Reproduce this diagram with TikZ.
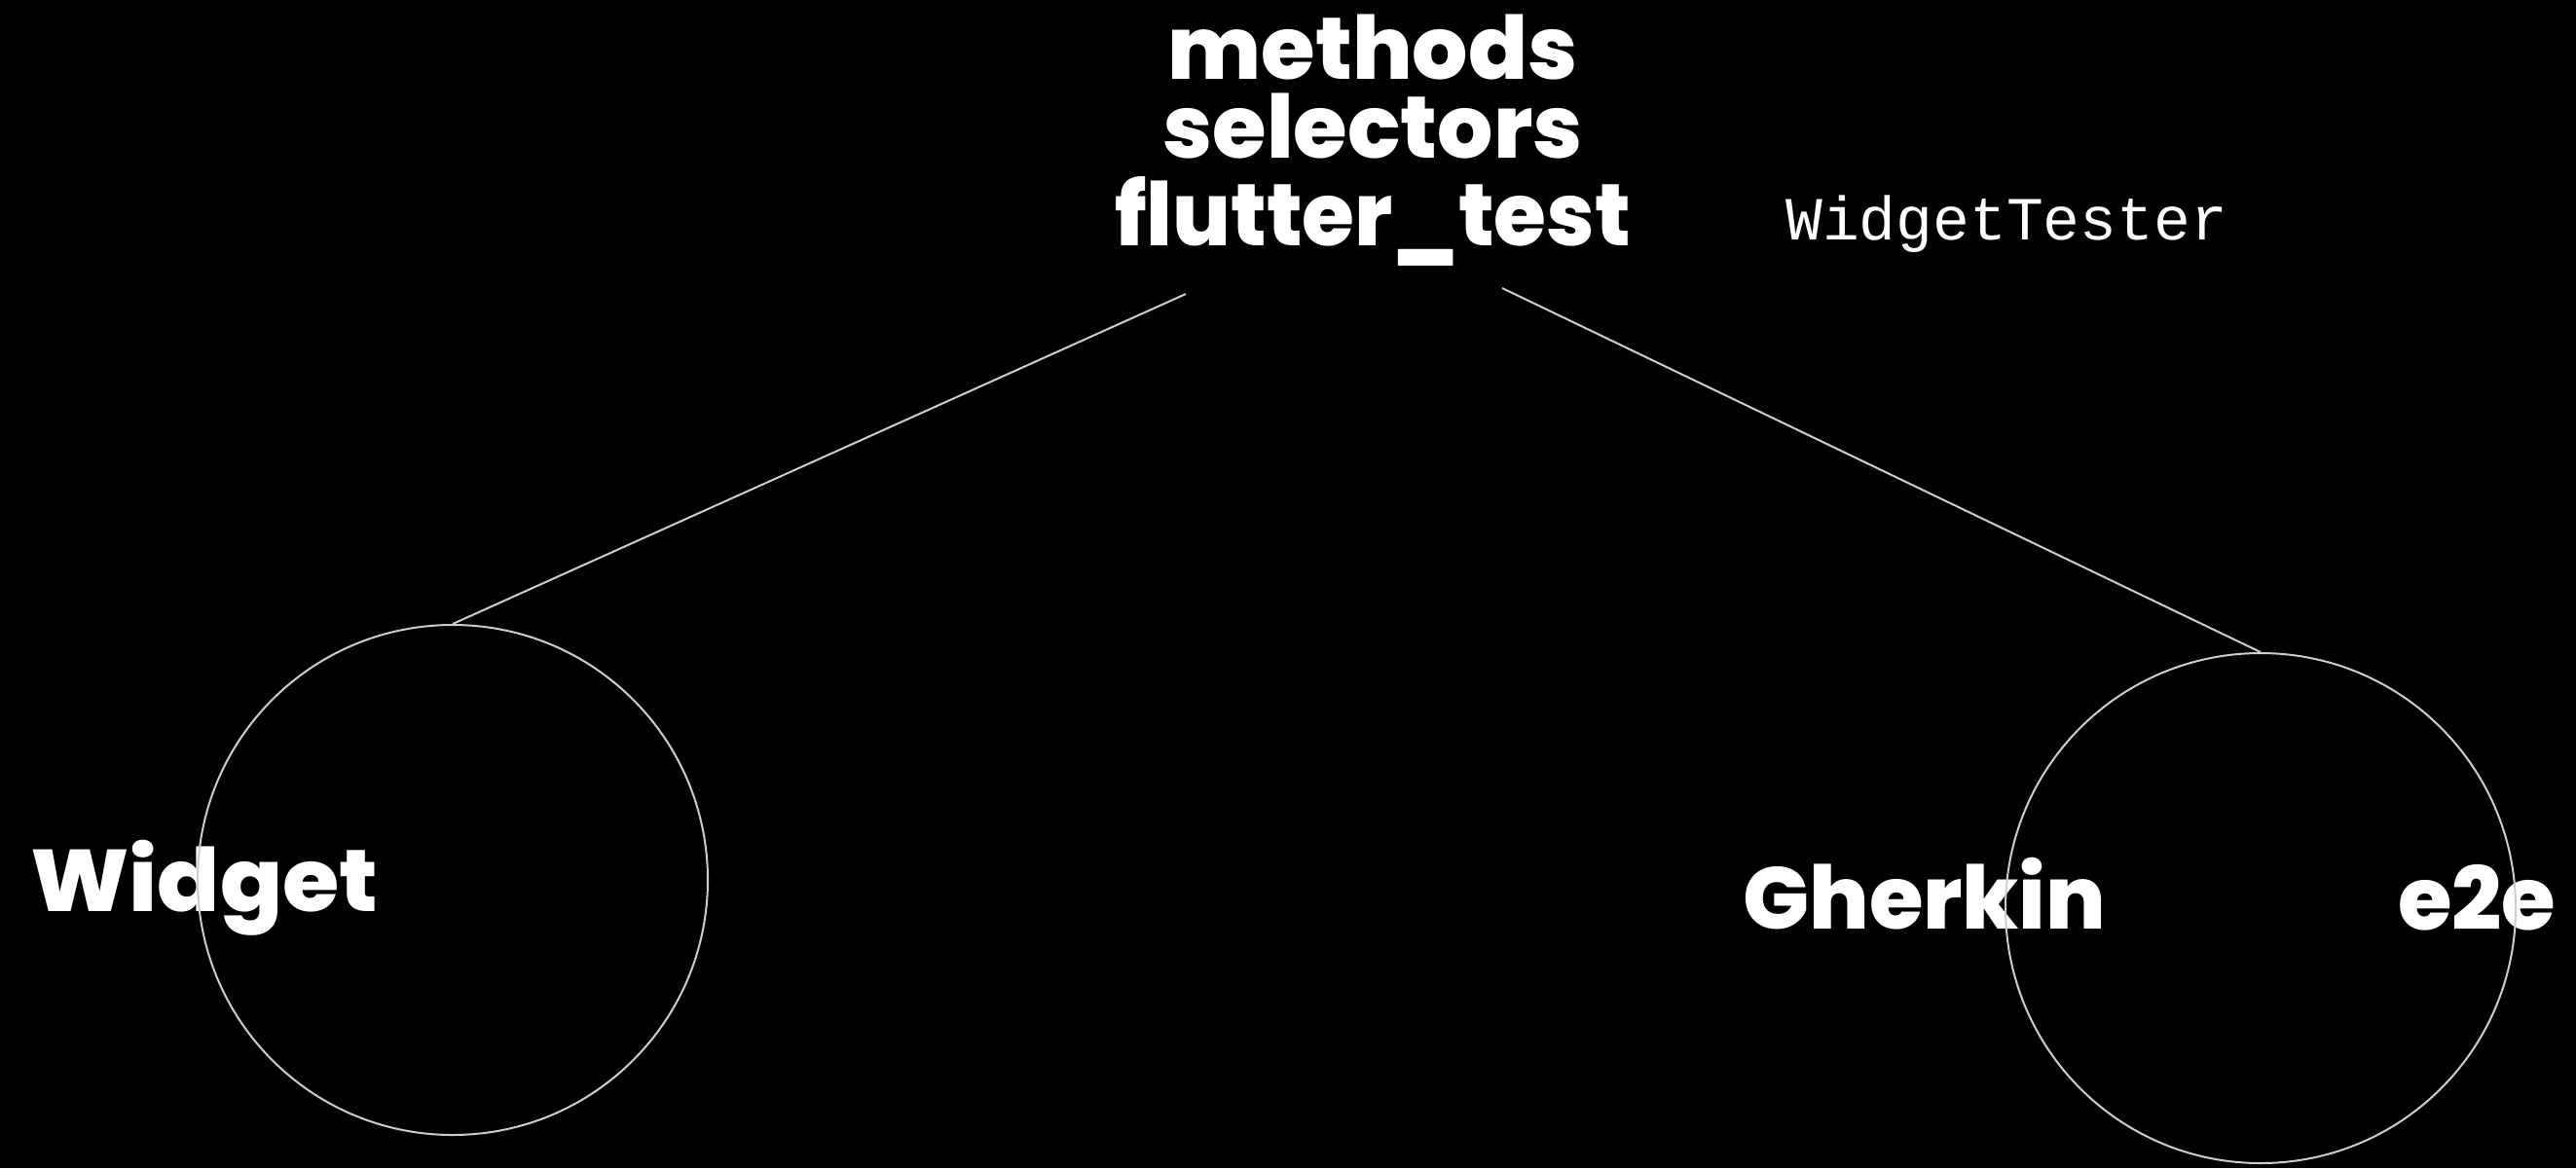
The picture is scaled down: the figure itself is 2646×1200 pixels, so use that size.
\documentclass[tikz,border=0pt]{standalone}
\usepackage{fontspec}
\newfontfamily\heavy{Poppins}[UprightFont={* ExtraBold}]
\newfontfamily\mono{Liberation Mono}
\begin{document}
\begin{tikzpicture}[x=1pt,y=-1pt,
  label/.style={inner sep=0pt, text=white, font=\heavy\fontsize{90}{81}\selectfont},
  code/.style={inner sep=0pt, text=white, font=\mono\fontsize{63}{63}\selectfont},
  ring/.style={circle, draw=ringgray, line width=2pt, minimum size=524pt, inner sep=0pt},
  link/.style={draw=ringgray, line width=2pt}]
\definecolor{ringgray}{RGB}{205,205,205}
% canvas
\fill[black] (0,0) rectangle (2646,1200);
\useasboundingbox (0,0) rectangle (2646,1200);

% heading stack: the base anchor sits on the last line (y=252);
% lines above are 90pt and then 81pt higher
\node[label, anchor=base, align=center] (heading) at (1410,252)
  {methods\\selectors\\[9pt]\scalebox{0.97}[1]{flutter\_test}};
\node[code, anchor=base west] (tester) at (1834,246) {WidgetTester};

% side labels
\node[label, anchor=base west] (widget)  at (31,936)   {\scalebox{1.05}[1]{Widget}};
\node[label, anchor=base west] (gherkin) at (1790,954) {Gherkin};
\node[label, anchor=base west] (etoe)    at (2463,955) {e2e};

% circles
\node[ring] (wc) at (465,904) {};
\node[ring] (ec) at (2322,933) {};

% connectors from the heading down to the circles
\coordinate (fl) at (1218,302);
\coordinate (fr) at (1543,296);
\draw[link] (fl) -- (wc.north);
\draw[link] (fr) -- (ec.north);
\end{tikzpicture}
\end{document}
